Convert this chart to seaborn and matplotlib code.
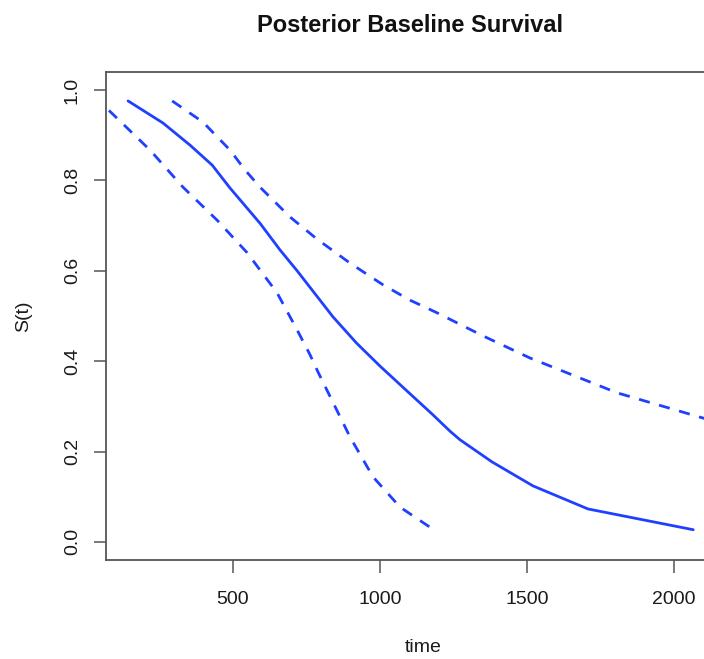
import matplotlib
matplotlib.use("Agg")
import matplotlib.pyplot as plt
import numpy as np
import pandas as pd
import seaborn as sns

# values
time_mid = [143, 262, 354, 429, 490, 592, 660, 718, 840, 920, 1000, 1095, 1177, 1238, 1272, 1381, 1520, 1707, 2065]
surv_mid = [0.976, 0.927, 0.878, 0.834, 0.783, 0.705, 0.646, 0.600, 0.498, 0.440, 0.389, 0.332, 0.283, 0.245, 0.226, 0.177, 0.124, 0.073, 0.027]

time_upper = [293, 398, 490, 541, 592, 694, 786, 898, 1010, 1102, 1194, 1350, 1510, 1806, 2099, 2250]
surv_upper = [0.976, 0.929, 0.867, 0.823, 0.785, 0.719, 0.670, 0.617, 0.569, 0.535, 0.507, 0.456, 0.407, 0.330, 0.274, 0.250]

time_lower = [40, 70, 218, 330, 446, 548, 650, 718, 762, 789, 898, 976, 1068, 1194]
surv_lower = [0.978, 0.960, 0.867, 0.785, 0.712, 0.640, 0.551, 0.469, 0.414, 0.376, 0.232, 0.144, 0.077, 0.022]

x_ticks = [500, 1000, 1500, 2000]
y_ticks = [0.0, 0.2, 0.4, 0.6, 0.8, 1.0]

sns.set_style("ticks")
plt.rcParams['font.family'] = ['Liberation Sans', 'DejaVu Sans']

W, H = 704, 659
fig = plt.figure(figsize=(W / 100, H / 100), dpi=100)
# plot box; right edge runs past the image like the reference
left, right, top, bottom = 106, 740, 72, 560
ax = fig.add_axes([left / W, 1 - bottom / H, (right - left) / W, (bottom - top) / H])

blue = '#2040ff'
mid = pd.DataFrame({'time': time_mid, 'S': surv_mid})
up = pd.DataFrame({'time': time_upper, 'S': surv_upper})
lo = pd.DataFrame({'time': time_lower, 'S': surv_lower})

sns.lineplot(data=mid, x='time', y='S', ax=ax, color=blue, lw=2.0, sort=False)
sns.lineplot(data=up, x='time', y='S', ax=ax, color=blue, lw=2.0, sort=False,
             linestyle=(0, (4, 3.5)))
sns.lineplot(data=lo, x='time', y='S', ax=ax, color=blue, lw=2.0, sort=False,
             linestyle=(2, (4, 3.5)))

ax.set_xlim(68, 2224)
ax.set_ylim(-0.04, 1.04)
ax.set_xticks(x_ticks)
ax.set_yticks(y_ticks)
ax.set_yticklabels(['%.1f' % v for v in y_ticks], rotation=90, va='center')

for s in ax.spines.values():
    s.set_color('#555555')
    s.set_linewidth(1.3)
ax.tick_params(axis='both', direction='out', length=9, width=1.1, color='#555555',
               labelsize=14, labelcolor='#1a1a1a')
ax.tick_params(axis='x', pad=13)
ax.tick_params(axis='y', pad=9)

ax.set_xlabel('time', fontsize=14, color='#1a1a1a', labelpad=23)
ax.set_ylabel('S(t)', fontsize=14, color='#1a1a1a', labelpad=23)
fig.text(410 / W, 1 - 25 / H, 'Posterior Baseline Survival', ha='center', va='center',
         fontsize=17, fontweight='bold', color='#111111')

fig.savefig('out.png', dpi=100)
